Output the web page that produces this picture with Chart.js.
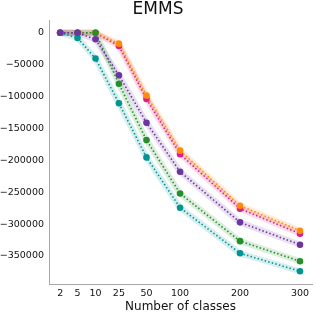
<!DOCTYPE html>
<html>
<head>
<meta charset="utf-8">
<script src="https://cdn.jsdelivr.net/npm/chart.js@4/dist/chart.umd.min.js"></script>
<style>
html,body{margin:0;padding:0;background:#fff;}
#wrap{width:316px;height:314px;position:relative;}
</style>
</head>
<body>
<div id="wrap"><canvas id="c" width="316" height="314"></canvas></div>
<script>
// Categories (number of classes) and their horizontal tick positions on the axis
const classes = ['2', '5', '10', '25', '50', '100', '200', '300'];
const classPositions = [0, 0.29, 0.59, 0.98, 1.44, 2, 3, 4];

// Series values (EMMS)
const seriesOrange  = [0, 0, 0, -17000, -98300, -184800, -271200, -310400];
const seriesMagenta = [0, 0, 0, -20700, -103700, -190300, -275900, -315100];
const seriesPurple  = [0, 0, -10200, -66600, -141000, -218000, -297300, -332400];
const seriesGreen   = [0, 0, 0, -80000, -168300, -252100, -326800, -358300];
const seriesTeal    = [0, -8100, -40400, -110400, -195400, -274400, -345800, -374000];

const yTicks = [0, -50000, -100000, -150000, -200000, -250000, -300000, -350000];

const series = [
  {data: seriesTeal,    color: '#009595', band: 'rgba(0,149,149,0.16)',  order: 5},
  {data: seriesMagenta, color: '#d81f8c', band: 'rgba(216,31,140,0.16)', order: 4},
  {data: seriesOrange,  color: '#ff8a0c', band: 'rgba(255,138,12,0.18)', order: 3},
  {data: seriesGreen,   color: '#23902a', band: 'rgba(35,144,42,0.16)',  order: 2},
  {data: seriesPurple,  color: '#6c35a0', band: 'rgba(108,53,160,0.16)', order: 1}
];

const toPts = arr => arr.map((v, i) => ({x: classPositions[i], y: v}));

const datasets = [];
series.forEach(s => {
  datasets.push({
    data: toPts(s.data), borderColor: s.band, borderWidth: 6, pointRadius: 0,
    fill: false, tension: 0, order: 100 + s.order, borderCapStyle: 'round', borderJoinStyle: 'round'
  });
});
series.forEach(s => {
  datasets.push({
    data: toPts(s.data), borderColor: s.color, borderWidth: 1.6, borderDash: [1.5, 2.2],
    pointRadius: 3.3, pointBackgroundColor: s.color, pointBorderColor: s.color, pointBorderWidth: 0,
    fill: false, tension: 0, order: s.order
  });
});

const fmt = v => v < 0 ? '\u2212' + Math.abs(v) : String(v);
const font = 'DejaVu Sans';

new Chart(document.getElementById('c'), {
  type: 'line',
  data: {datasets},
  options: {
    responsive: false,
    animation: false,
    events: [],
    layout: {padding: 0},
    plugins: {
      legend: {display: false},
      tooltip: {enabled: false},
      title: {
        display: true, text: 'EMMS', color: '#111',
        font: {family: font, size: 17, weight: 'normal', lineHeight: 1.18},
        padding: {top: 0, bottom: 0}, align: 'center'
      }
    },
    scales: {
      x: {
        type: 'linear', min: -0.186, max: 4.2,
        grid: {display: false, drawTicks: false},
        border: {display: true, color: '#a8a8a8', width: 1},
        afterBuildTicks: ax => { ax.ticks = classPositions.map(v => ({value: v})); },
        afterFit: ax => { ax.height = 30; },
        ticks: {
          autoSkip: false, maxRotation: 0, padding: 4, color: '#111',
          font: {family: font, size: 9.5},
          callback: (v, i) => classes[i]
        },
        title: {display: true, text: 'Number of classes', color: '#111',
          font: {family: font, size: 12}, padding: {top: 0, bottom: 0}}
      },
      y: {
        type: 'linear', min: -394000, max: 20000,
        grid: {display: false, drawTicks: false},
        border: {display: true, color: '#a8a8a8', width: 1},
        afterBuildTicks: ax => { ax.ticks = yTicks.map(v => ({value: v})); },
        afterFit: ax => { ax.width = 49; },
        ticks: {
          autoSkip: false, padding: 5, color: '#111',
          font: {family: font, size: 9.5},
          callback: v => fmt(v)
        }
      }
    }
  }
});
</script>
</body>
</html>
